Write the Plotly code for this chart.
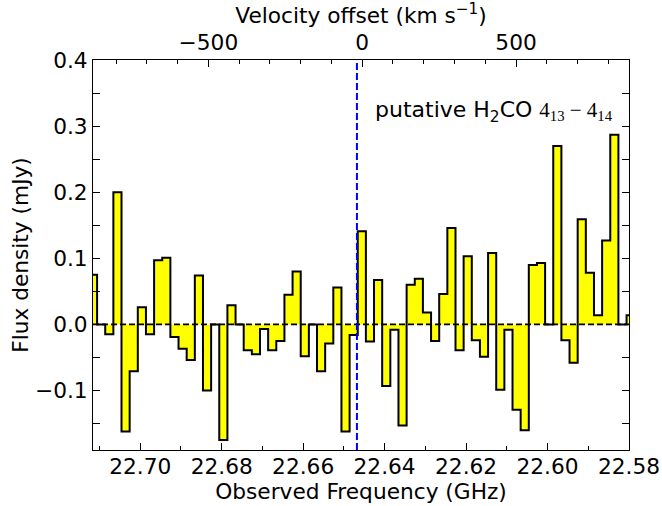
import plotly.graph_objects as go

# channel centre frequencies (GHz) and flux density (mJy)
freq_ghz = [
    22.7116, 22.7096, 22.7076, 22.7056, 22.7036, 22.7016, 22.6996, 22.6976,
    22.6956, 22.6936, 22.6916, 22.6896, 22.6876, 22.6856, 22.6836, 22.6816,
    22.6796, 22.6776, 22.6756, 22.6736, 22.6716, 22.6696, 22.6676, 22.6656,
    22.6636, 22.6616, 22.6596, 22.6576, 22.6556, 22.6536, 22.6516, 22.6496,
    22.6476, 22.6456, 22.6436, 22.6416, 22.6396, 22.6376, 22.6356, 22.6336,
    22.6316, 22.6296, 22.6276, 22.6256, 22.6236, 22.6216, 22.6196, 22.6176,
    22.6156, 22.6136, 22.6116, 22.6096, 22.6076, 22.6056, 22.6036, 22.6016,
    22.5996, 22.5976, 22.5956, 22.5936, 22.5916, 22.5896, 22.5876, 22.5856,
    22.5836, 22.5816, 22.5796,
]
flux_mjy = [
    0.075, 0.0, -0.015, 0.200, -0.162, -0.071, 0.026, -0.015,
    0.097, 0.101, -0.019, -0.037, -0.054, 0.074, -0.100, 0.0,
    -0.175, 0.029, 0.0, -0.039, -0.045, -0.007, -0.039, -0.025,
    0.045, 0.080, -0.048, 0.0, -0.071, -0.029, 0.056, -0.162,
    -0.016, 0.141, -0.026, 0.067, -0.093, -0.008, -0.153, 0.060,
    0.069, 0.018, -0.025, 0.046, 0.146, -0.039, 0.103, -0.024,
    -0.049, 0.108, -0.099, -0.008, -0.129, -0.160, 0.090, 0.093,
    0.0, 0.270, -0.024, -0.058, 0.159, 0.078, 0.014, 0.127,
    0.287, 0.0, 0.014,
]

line_freq = 22.6468      # expected line position (blue dashed)
vel_zero_freq = 22.6455  # zero point of velocity axis
freq_range = [22.7116, 22.58]
c_kms = 299792.458
vel_range = [c_kms * (1 - f / vel_zero_freq) for f in freq_range]

FONT = "DejaVu Sans"
FS = 21.7

fig = go.Figure()

fig.add_trace(go.Scatter(
    x=freq_ghz, y=flux_mjy,
    mode="lines",
    line=dict(shape="hvh", color="black", width=2),
    fill="tozeroy",
    fillcolor="#ffff00",
    showlegend=False,
    hoverinfo="skip",
))

# empty trace so the top velocity axis gets drawn
fig.add_trace(go.Scatter(
    x=vel_range, y=[None, None], xaxis="x2", yaxis="y",
    mode="lines", showlegend=False, hoverinfo="skip",
))

fig.add_shape(type="line", xref="paper", yref="y", x0=0, x1=1, y0=0, y1=0,
              line=dict(color="black", width=1.6, dash="6px,3px"))
fig.add_shape(type="line", xref="x", yref="paper", x0=line_freq, x1=line_freq, y0=0, y1=1,
              line=dict(color="#0000ff", width=2, dash="7px,3px"))

fig.add_annotation(
    xref="paper", yref="paper", x=0.522, y=0.867,
    xanchor="left", yanchor="middle", showarrow=False,
    text='putative H<sub>2</sub>CO <span style="font-family:Liberation Serif;font-size:21px">'
         '4<sub>13</sub> \u2212 4<sub>14</sub></span>',
    font=dict(size=22, color="black", family=FONT),
)

tick_font = dict(size=FS, color="black", family=FONT)

fig.update_layout(
    width=662, height=506,
    margin=dict(l=93, r=33, t=60, b=56),
    plot_bgcolor="white", paper_bgcolor="white",
    font=dict(family=FONT, color="black"),
    xaxis=dict(
        range=freq_range, showgrid=False, zeroline=False, automargin=False,
        showline=True, linecolor="black", linewidth=1, mirror=True,
        ticks="inside", ticklen=7, tickcolor="black", ticklabelstandoff=-3,
        tick0=22.58, dtick=0.02, tickformat=".2f", tickfont=tick_font,
        minor=dict(dtick=0.01, ticks="inside", ticklen=4, tickcolor="black"),
        title=dict(text="Observed Frequency (GHz)", font=dict(size=FS), standoff=2),
    ),
    xaxis2=dict(
        range=vel_range, overlaying="x", side="top", anchor="y", automargin=False,
        showgrid=False, zeroline=False, showline=False,
        ticks="inside", ticklen=7, tickcolor="black", ticklabelstandoff=5,
        tick0=0, dtick=500, tickfont=tick_font,
        minor=dict(dtick=100, ticks="inside", ticklen=4, tickcolor="black"),
        title=dict(text="Velocity offset (km s<sup>\u22121</sup>)", font=dict(size=FS), standoff=0),
    ),
    yaxis=dict(
        range=[-0.19, 0.4], showgrid=False, zeroline=False, automargin=False,
        showline=True, linecolor="black", linewidth=1, mirror="allticks",
        ticks="inside", ticklen=7, tickcolor="black",
        tick0=0, dtick=0.1, tickformat=".1f", tickfont=tick_font,
        minor=dict(dtick=0.05, ticks="inside", ticklen=4, tickcolor="black"),
        title=dict(text="Flux density (mJy)", font=dict(size=FS), standoff=0),
    ),
)

# drop the page's default body margin so the figure sits at the top-left corner
fig.write_html("out.html", config={"displayModeBar": False},
               post_script="document.body.style.margin='0';")
